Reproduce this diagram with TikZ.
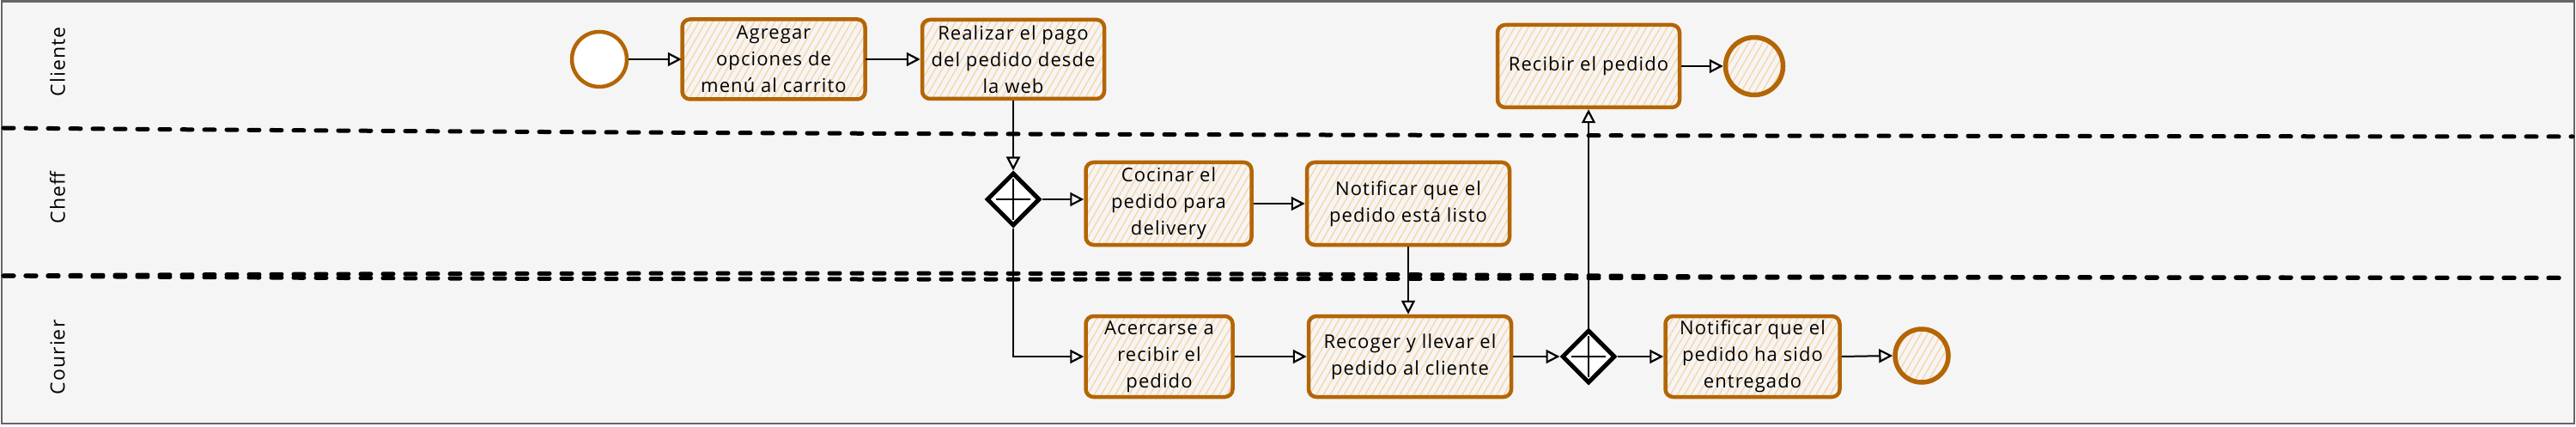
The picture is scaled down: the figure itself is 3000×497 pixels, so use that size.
\documentclass[tikz,border=0pt]{standalone}
\usepackage{fontspec}
\setmainfont{Open Sans}[LetterSpace=5]
\usetikzlibrary{arrows.meta,shapes.geometric,patterns.meta}
\definecolor{orng}{HTML}{B46504}
\definecolor{hatch}{HTML}{FAD7AC}
\definecolor{bgc}{HTML}{F5F5F5}
\definecolor{framec}{HTML}{666666}
\begin{document}
\begin{tikzpicture}[x=1pt,y=-1pt,
  task/.style={draw=orng, line width=4.5pt, rounded corners=9pt,
    pattern={Lines[angle=60,distance=7pt,line width=1.5pt]}, pattern color=hatch,
    align=center, font=\fontsize{22}{31}\selectfont, inner sep=0pt},
  startev/.style={circle, draw=orng, line width=4.5pt, fill=white, inner sep=0pt},
  endev/.style={circle, draw=orng, line width=5.5pt, inner sep=0pt,
    pattern={Lines[angle=60,distance=7pt,line width=1.5pt]}, pattern color=hatch},
  gate/.style={diamond, draw=black, line width=5pt, fill=white, inner sep=0pt,
    minimum width=62pt, minimum height=62pt},
  conn/.style={draw=black, line width=2pt,
    -{Triangle[open,length=16pt,width=16pt,line width=2.2pt]}},
  lane/.style={rotate=90, font=\fontsize{23}{28}\selectfont},
  divider/.style={line width=5pt, line cap=round, dash pattern=on 12pt off 14pt}]
\useasboundingbox (0,0) rectangle (3000,497);
\fill[white] (0,0) rectangle (3000,497);
\draw[framec, line width=2.5pt, fill=bgc] (2,1.5) rectangle (2998,493);

% lane dividers
\draw[divider] (4,149) .. controls (800,156) and (1600,158) .. (2996,159);
\draw[divider] (4,321) .. controls (600,317) and (1400,317) .. (2000,322) -- (2992,323.5);
\draw[divider] (4,321) .. controls (600,326) and (1400,326) .. (2000,323) -- (2992,323.5);

% lane labels
\node[lane] (l1) at (67,72) {Cliente};
\node[lane] (l2) at (67,230) {Cheff};
\node[lane] (l3) at (67,416) {Courier};

% nodes
\node[startev, minimum size=64pt] (start) at (698,69) {};
\node[task, minimum width=213pt, minimum height=93pt] (agr) at (901,69) {Agregar\\opciones de\\menú al carrito};
\node[task, minimum width=212pt, minimum height=92pt] (real) at (1180,69) {Realizar el pago\\del pedido desde\\la web};
\node[gate] (g1) at (1180,232) {};
\node[task, minimum width=193pt, minimum height=96pt] (coc) at (1361,237) {Cocinar el\\pedido para\\delivery};
\node[task, minimum width=171pt, minimum height=94pt] (acer) at (1350,415) {Acercarse a\\recibir el\\pedido};
\node[task, minimum width=236pt, minimum height=96pt] (notl) at (1640,237) {Notificar que el\\pedido está listo};
\node[task, minimum width=236pt, minimum height=94pt] (rec) at (1642,415) {Recoger y llevar el\\pedido al cliente};
\node[gate] (g2) at (1850,415) {};
\node[task, minimum width=212pt, minimum height=96pt] (recib) at (1850,77) {Recibir el pedido};
\node[endev, minimum size=67pt] (end1) at (2043,77) {};
\node[task, minimum width=203pt, minimum height=94pt] (note) at (2041,415) {Notificar que el\\pedido ha sido\\entregado};
\node[endev, minimum size=62pt] (end2) at (2238,414) {};

% plus signs in gateways
\draw[line width=2pt] (g1.center) +(-20,0) -- +(20,0) +(0,-24) -- +(0,24);
\draw[line width=2pt] (g2.center) +(-20,0) -- +(20,0) +(0,-24) -- +(0,24);

% connectors
\draw[conn] (start.east) -- (agr.west |- start.east);
\draw[conn] (agr.east) -- (real.west |- agr.east);
\draw[conn] (real.south) -- (g1.north);
\draw[conn] (g1.east) -- (coc.west |- g1.east);
\draw[conn] (g1.south) |- (acer.west);
\draw[conn] (coc.east) -- (notl.west |- coc.east);
\draw[conn] (notl.south) -- (notl.south |- rec.north);
\draw[conn] (acer.east) -- (rec.west |- acer.east);
\draw[conn] (rec.east) -- (g2.west);
\draw[conn] (g2.north) -- (recib.south);
\draw[conn] (recib.east) -- (end1.west);
\draw[conn] (g2.east) -- (note.west);
\draw[conn] (note.east) -- (end2.west);
\end{tikzpicture}
\end{document}
